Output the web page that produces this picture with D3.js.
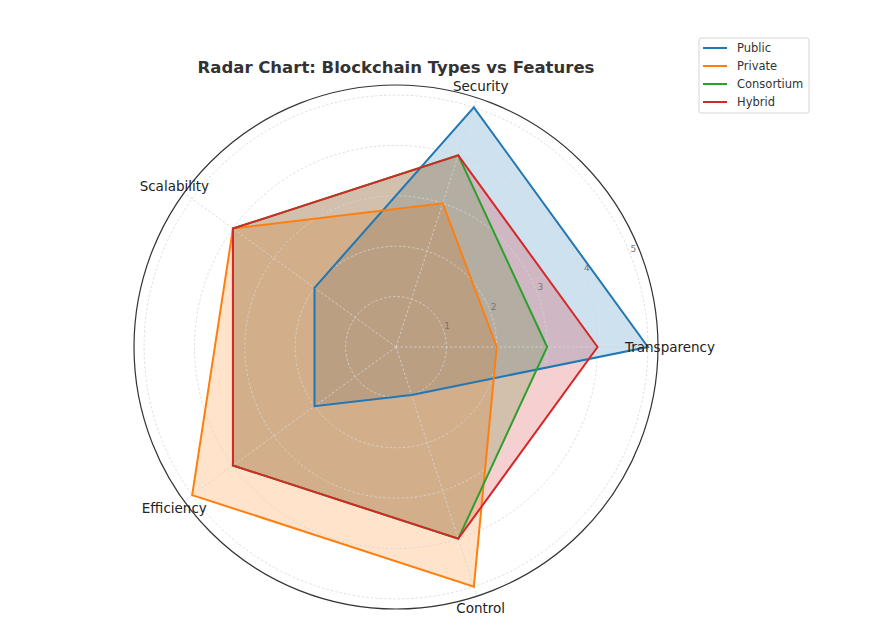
<!DOCTYPE html>
<html>
<head>
<meta charset="utf-8">
<script src="https://cdn.jsdelivr.net/npm/d3@7"></script>
<style>
  body { margin: 0; background: #fff; }
  svg text { font-family: "DejaVu Sans", sans-serif; }
</style>
</head>
<body>
<div id="chart"></div>
<script>
// features, placed counterclockwise from the right like matplotlib
const features = ['Transparency', 'Security', 'Scalability', 'Efficiency', 'Control'];
const seriesNames = ['Public', 'Private', 'Consortium', 'Hybrid'];
const publicVals = [5, 5, 2, 2, 1];
const privateVals = [2, 3, 4, 5, 5];
const consortiumVals = [3, 4, 4, 4, 4];
const hybridVals = [4, 4, 4, 4, 4];
const ticks = [1, 2, 3, 4, 5];
const colors = ['#1f77b4', '#ff7f0e', '#2ca02c', '#d62728'];

const width = 878, height = 628;
const cx = 396, cy = 347;
const rMax = 5.2;
const outerR = 262;

const svg = d3.select('#chart').append('svg')
    .attr('width', width)
    .attr('height', height);

const r = d3.scaleLinear().domain([0, rMax]).range([0, outerR]);
const angle = d3.scaleLinear().domain([0, features.length]).range([0, 2 * Math.PI]);

// point in screen coordinates, theta counterclockwise from east
function pt(i, v) {
    const a = angle(i);
    return [cx + r(v) * Math.cos(a), cy - r(v) * Math.sin(a)];
}

const series = [publicVals, privateVals, consortiumVals, hybridVals];

// fills first
series.forEach((vals, k) => {
    svg.append('polygon')
        .attr('points', vals.map((v, i) => pt(i, v).join(',')).join(' '))
        .attr('fill', colors[k])
        .attr('fill-opacity', 0.22)
        .attr('stroke', 'none');
});

// grid circles
svg.selectAll('.grid-circle')
    .data(ticks)
    .enter()
    .append('circle')
    .attr('class', 'grid-circle')
    .attr('cx', cx)
    .attr('cy', cy)
    .attr('r', d => r(d))
    .attr('fill', 'none')
    .attr('stroke', '#d6d6d6')
    .attr('stroke-width', 0.8)
    .attr('stroke-dasharray', '2.5,2');

// spokes
svg.selectAll('.spoke')
    .data(features)
    .enter()
    .append('line')
    .attr('class', 'spoke')
    .attr('x1', cx)
    .attr('y1', cy)
    .attr('x2', (d, i) => pt(i, rMax)[0])
    .attr('y2', (d, i) => pt(i, rMax)[1])
    .attr('stroke', '#d6d6d6')
    .attr('stroke-width', 0.8)
    .attr('stroke-dasharray', '2.5,2');

// outer frame
svg.append('circle')
    .attr('cx', cx)
    .attr('cy', cy)
    .attr('r', outerR)
    .attr('fill', 'none')
    .attr('stroke', '#333')
    .attr('stroke-width', 1.2);

// radial tick labels at 22.5 deg
const tickAng = 22.5 * Math.PI / 180;
svg.selectAll('.rtick')
    .data(ticks)
    .enter()
    .append('text')
    .attr('class', 'rtick')
    .attr('x', d => cx + (r(d) + 5) * Math.cos(tickAng))
    .attr('y', d => cy - (r(d) + 5) * Math.sin(tickAng))
    .attr('text-anchor', 'middle')
    .attr('dominant-baseline', 'central')
    .attr('font-size', 9)
    .attr('fill', '#777')
    .text(d => d);

// series lines
series.forEach((vals, k) => {
    svg.append('polygon')
        .attr('points', vals.map((v, i) => pt(i, v).join(',')).join(' '))
        .attr('fill', 'none')
        .attr('stroke', colors[k])
        .attr('stroke-width', 2)
        .attr('stroke-linejoin', 'miter');
});

// feature labels
svg.selectAll('.feat')
    .data(features)
    .enter()
    .append('text')
    .attr('class', 'feat')
    .attr('x', (d, i) => cx + 274 * Math.cos(angle(i)))
    .attr('y', (d, i) => cy - 274 * Math.sin(angle(i)))
    .attr('text-anchor', 'middle')
    .attr('dominant-baseline', 'central')
    .attr('font-size', 13.5)
    .attr('fill', '#222')
    .text(d => d);

// title
svg.append('text')
    .attr('x', cx)
    .attr('y', 67)
    .attr('text-anchor', 'middle')
    .attr('dominant-baseline', 'central')
    .attr('font-size', 16.5)
    .attr('font-weight', 'bold')
    .attr('fill', '#333')
    .text('Radar Chart: Blockchain Types vs Features');

// legend
const legend = svg.append('g').attr('transform', 'translate(699,38)');
legend.append('rect')
    .attr('width', 110)
    .attr('height', 75)
    .attr('rx', 2)
    .attr('fill', '#fff')
    .attr('stroke', '#d5d5d5')
    .attr('stroke-width', 1);
seriesNames.forEach((name, k) => {
    const y = 10 + k * 18;
    legend.append('line')
        .attr('x1', 4).attr('x2', 28)
        .attr('y1', y).attr('y2', y)
        .attr('stroke', colors[k])
        .attr('stroke-width', 2);
    legend.append('text')
        .attr('x', 38)
        .attr('y', y)
        .attr('dominant-baseline', 'central')
        .attr('font-size', 11.5)
        .attr('fill', '#333')
        .text(name);
});
</script>
</body>
</html>
